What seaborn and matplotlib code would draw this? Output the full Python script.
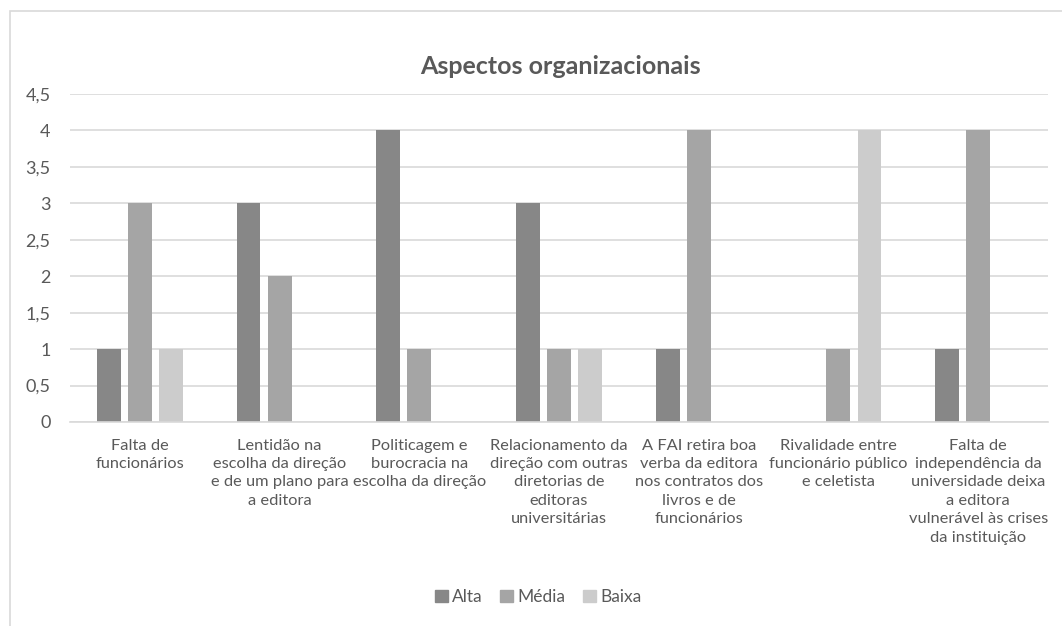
import matplotlib
matplotlib.use('Agg')
import matplotlib.pyplot as plt
import matplotlib.patches as mpatches
import seaborn as sns
import pandas as pd

# 데이터
categorias = [
    'Falta de\nfuncionários',
    'Lentidão na\nescolha da direção\ne de um plano para\na editora',
    'Politicagem e\nburocracia na\nescolha da direção',
    'Relacionamento da\ndireção com outras\ndiretorias de\neditoras\nuniversitárias',
    'A FAI retira boa\nverba da editora\nnos contratos dos\nlivros e de\nfuncionários',
    'Rivalidade entre\nfuncionário público\ne celetista',
    'Falta de\nindependência da\nuniversidade deixa\na editora\nvulnerável às crises\nda instituição',
]
niveis = ['Alta', 'Média', 'Baixa']
alta = [1, 3, 4, 3, 1, 0, 1]
media = [3, 2, 1, 1, 4, 1, 4]
baixa = [1, 0, 0, 1, 0, 4, 0]
cores = ['#878787', '#a5a5a5', '#cccccc']

sns.set_style("white")
plt.rcParams['font.family'] = ['Lato', 'DejaVu Sans']

df = pd.DataFrame({
    'categoria': categorias * 3,
    'nivel': [n for n in niveis for _ in categorias],
    'valor': alta + media + baixa,
})

fig = plt.figure(figsize=(10.62, 6.26), dpi=100)
ax = fig.add_axes([70 / 1062, 1 - 422 / 626, 978 / 1062, 328 / 626])

sns.barplot(data=df, x='categoria', y='valor', hue='nivel', hue_order=niveis,
            palette=cores, width=0.666, gap=0.23, ax=ax, legend=False,
            saturation=1, linewidth=0)

ax.set_xlim(-0.5, len(categorias) - 0.5)
ax.set_ylim(0, 4.5)
ax.set_yticks([i * 0.5 for i in range(10)])
ax.set_yticklabels([f'{i * 0.5:g}'.replace('.', ',') for i in range(10)],
                   fontsize=13, color='#595959')
ax.set_xticks(range(len(categorias)))
ax.set_xticklabels(categorias, fontsize=11.8, color='#595959', linespacing=1.4)
ax.tick_params(axis='y', length=0, pad=14)
ax.tick_params(axis='x', length=0, pad=12)
ax.set_xlabel('')
ax.set_ylabel('')
ax.grid(axis='y', color='#d9d9d9', linewidth=1.2)
ax.set_axisbelow(True)
for s in ['top', 'right', 'left']:
    ax.spines[s].set_visible(False)
ax.spines['bottom'].set_color('#d9d9d9')
ax.spines['bottom'].set_linewidth(1.2)

fig.text(560 / 1062, 1 - 67 / 626, 'Aspectos organizacionais', ha='center', va='center',
         fontsize=18, fontweight='bold', color='#595959')

handles = [mpatches.Patch(color=c, label=n) for c, n in zip(cores, niveis)]
fig.legend(handles=handles, loc='center', bbox_to_anchor=(538 / 1062, 1 - 597 / 626), ncol=3,
           frameon=False, fontsize=12.5, handlelength=0.75, handleheight=0.75,
           handletextpad=0.25, columnspacing=1.0, labelcolor='#595959')

# 테두리
borda = mpatches.Rectangle((10 / 1062, -0.1), 1.2, 1.1 - 11 / 626,
                           transform=fig.transFigure, fill=False,
                           edgecolor='#d9d9d9', linewidth=1.2)
fig.patches.append(borda)

fig.savefig('out.png', dpi=100)
